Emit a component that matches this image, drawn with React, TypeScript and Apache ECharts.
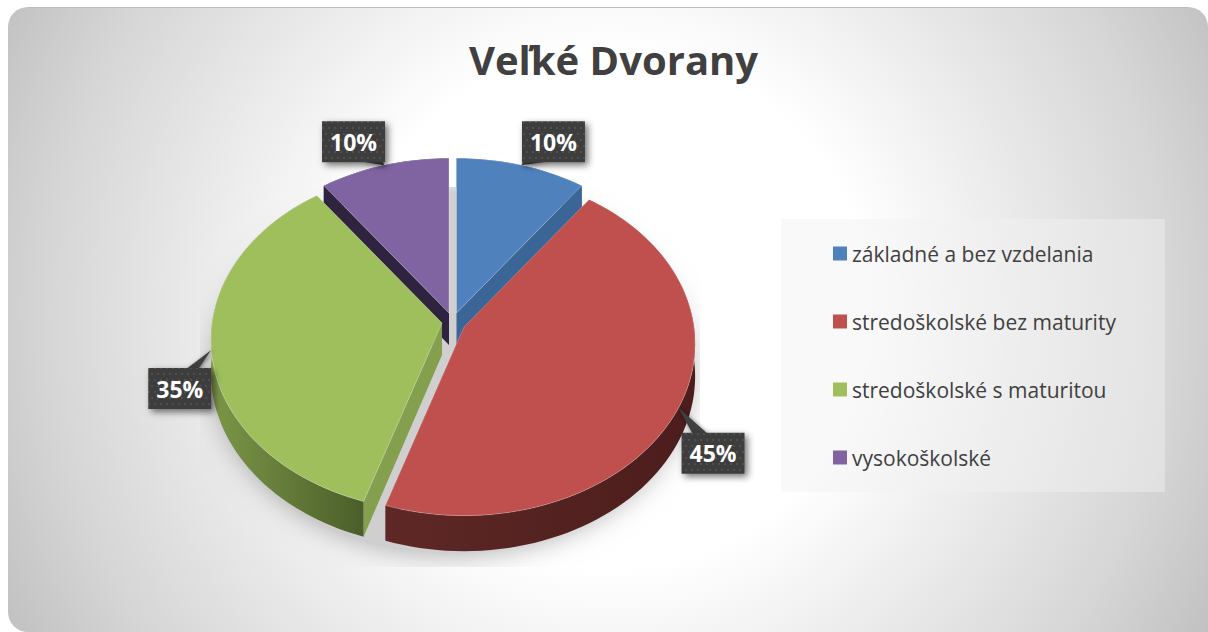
import React, { useEffect, useRef } from "react";
import * as echarts from "echarts";

const categories = [
  "základné a bez vzdelania",
  "stredoškolské bez maturity",
  "stredoškolské s maturitou",
  "vysokoškolské",
];
const values = [10, 45, 35, 10];
const titleText = "Veľké Dvorany";

const topColors = ["#4F81BD", "#C0504D", "#9FBF5C", "#8064A2"];
const wallColors = ["#3B6597", "#7A2F2D", "#84A04E", "#2F2440"];
const sideFrom = ["#3B6597", "#5E2826", "#7C9748", "#2F2440"];
const sideTo = ["#3B6597", "#4B1D1C", "#4B5E2A", "#2F2440"];
const drawOrder = [2, 5, 4, 3];

const FONT = "'Open Sans', sans-serif";
const PIE = { cx: 450, cy: 322, rx: 230, ry: 170, persp: 0.0988, depth: 32 };
const explode = [[6.5, -9], [14, 5], [-8, 1], [-1, -9]];
const labelOffset = [[0.5, -44], [3, 25], [-63, 18], [-62, -44]];
const pointerBase = [[1, 28], [11, 26], [38, 50], [38, 61]];
const BOX = { w: 63, h: 41 };

function project(i: number, theta: number, down = 0): number[] {
  const u = Math.sin(theta);
  const v = -Math.cos(theta);
  const f = 1 / (1 - PIE.persp * v);
  return [
    PIE.cx + explode[i][0] + PIE.rx * u * f,
    PIE.cy + explode[i][1] + PIE.ry * v * f + down * f,
  ];
}

function project2(i: number): number[] {
  return [PIE.cx + explode[i][0], PIE.cy + explode[i][1]];
}

function angles(i: number, value: number): number[] {
  const total = values.reduce((a, b) => a + b, 0);
  const before = values.slice(0, i).reduce((a, b) => a + b, 0);
  const start = (before / total) * Math.PI * 2;
  return [start, start + (value / total) * Math.PI * 2];
}

function arc(i: number, a0: number, a1: number, down = 0): number[][] {
  const n = Math.max(8, Math.ceil(((a1 - a0) * 180) / Math.PI / 2));
  const pts: number[][] = [];
  for (let k = 0; k <= n; k++) pts.push(project(i, a0 + ((a1 - a0) * k) / n, down));
  return pts;
}

function makeDots(): string {
  const c = document.createElement("canvas");
  c.width = 12;
  c.height = 12;
  const g = c.getContext("2d")!;
  g.fillStyle = "#3E3E3E";
  g.fillRect(0, 0, 12, 12);
  g.fillStyle = "#505050";
  for (const [x, y] of [[1, 1], [7, 1], [4, 7], [10, 7]]) {
    g.fillRect(x, y, 2, 2);
  }
  return c.toDataURL();
}

export default function App() {
  const ref = useRef<HTMLDivElement>(null);
  useEffect(() => {
    document.body.style.margin = "0";
    document.body.style.background = "#fff";
    const chart = echarts.init(ref.current!, null, { renderer: "svg" });
    const dots = makeDots();

    const shadowSeries: any = {
      type: "custom",
      name: "tieň",
      coordinateSystem: "none",
      silent: true,
      z: 1,
      data: [[0]],
      renderItem: () => ({
        type: "ellipse",
        shape: { cx: 452, cy: 372, rx: 237, ry: 180 },
        style: { fill: "#CFCFCF", shadowBlur: 30, shadowColor: "rgba(120,120,120,0.7)" },
        clipPath: { type: "rect", shape: { x: 200, y: 187, width: 500, height: 380 } },
      }),
    };

    const sliceSeries: any[] = categories.map((name, i) => ({
      type: "custom",
      name,
      coordinateSystem: "none",
      z: drawOrder[i],
      silent: true,
      itemStyle: { color: topColors[i] },
      data: [[values[i]]],
      renderItem: (_p: any, api: any) => {
        const value = api.value(0);
        const [a0, a1] = angles(i, value);
        const apex = project2(i);
        const apexDown = [apex[0], apex[1] + PIE.depth];
        const top = arc(i, a0, a1);
        const low = arc(i, a0, a1, PIE.depth);
        const wall = (theta: number) => {
          const p = project(i, theta);
          const q = project(i, theta, PIE.depth);
          return {
            type: "polygon",
            shape: { points: [apex, p, q, apexDown] },
            style: { fill: wallColors[i] },
          };
        };
        const mid = (a0 + a1) / 2;
        const tip = project(i, mid);
        const bx = tip[0] + labelOffset[i][0];
        const by = tip[1] + labelOffset[i][1];
        const baseY = labelOffset[i][1] < 0 ? by + BOX.h - 1 : by + 1;
        const box = {
          shadowBlur: 7,
          shadowOffsetX: 3,
          shadowOffsetY: 3,
          shadowColor: "rgba(0,0,0,0.55)",
        };
        return {
          type: "group",
          children: [
            wall(a0),
            wall(a1),
            {
              type: "polygon",
              shape: { points: [...top, ...low.slice().reverse()] },
              style: {
                fill: {
                  type: "linear",
                  x: 0,
                  y: 0,
                  x2: 1,
                  y2: 0,
                  colorStops: [
                    { offset: 0, color: sideFrom[i] },
                    { offset: 1, color: sideTo[i] },
                  ],
                },
              },
            },
            {
              type: "polygon",
              shape: { points: [apex, ...top] },
              style: { fill: topColors[i], stroke: "rgba(255,255,255,0.25)", lineWidth: 1 },
            },
            {
              type: "polygon",
              shape: {
                points: [tip, [bx + pointerBase[i][0], baseY], [bx + pointerBase[i][1], baseY]],
              },
              style: { fill: "#3F3F3F", ...box, shadowBlur: 4, shadowOffsetX: 1, shadowOffsetY: 1 },
            },
            {
              type: "rect",
              shape: { x: bx, y: by, width: BOX.w, height: BOX.h },
              style: {
                fill: { image: dots, imageWidth: 12, imageHeight: 12, repeat: "repeat" },
                ...box,
              },
            },
            {
              type: "text",
              x: bx + BOX.w / 2,
              y: by + BOX.h / 2,
              style: {
                text: `${value}%`,
                fill: "#FFFFFF",
                font: `bold 23px ${FONT}`,
                align: "center",
                verticalAlign: "middle",
              },
            },
          ],
        };
      },
    }));

    chart.setOption({
      animation: false,
      graphic: [
        {
          type: "rect",
          z: -10,
          silent: true,
          shape: { x: 8, y: 7, width: 1200, height: 625, r: [20, 20, 0, 20] },
          style: {
            fill: {
              type: "radial",
              global: true,
              x: 610,
              y: 310,
              r: 720,
              colorStops: [
                { offset: 0, color: "#FFFFFF" },
                { offset: 0.36, color: "#FFFFFF" },
                { offset: 0.78, color: "#D6D6D6" },
                { offset: 1, color: "#BABABA" },
              ],
            },
          },
        },
        {
          type: "line",
          z: -9,
          silent: true,
          shape: { x1: 28, y1: 7.5, x2: 1188, y2: 7.5 },
          style: { stroke: "#BDBDBD", lineWidth: 1 },
        },
      ],
      title: {
        text: titleText,
        left: 608.5,
        top: 34,
        textAlign: "center",
        textStyle: { fontFamily: FONT, fontWeight: "bold", fontSize: 40, color: "#404040" },
      },
      legend: {
        data: categories,
        orient: "vertical",
        left: 781,
        top: 219,
        padding: [24, 49, 24, 52],
        itemGap: 47,
        itemWidth: 14,
        itemHeight: 14,
        icon: "rect",
        selectedMode: false,
        backgroundColor: "rgba(242,242,242,0.45)",
        textStyle: { fontFamily: FONT, fontSize: 21, color: "#404040", padding: 0 },
      },
      series: [shadowSeries, ...sliceSeries],
    });
    return () => chart.dispose();
  }, []);

  return (
    <div
      ref={ref}
      style={{ position: "absolute", left: 0, top: 0, width: 1208, height: 632 }}
    />
  );
}
